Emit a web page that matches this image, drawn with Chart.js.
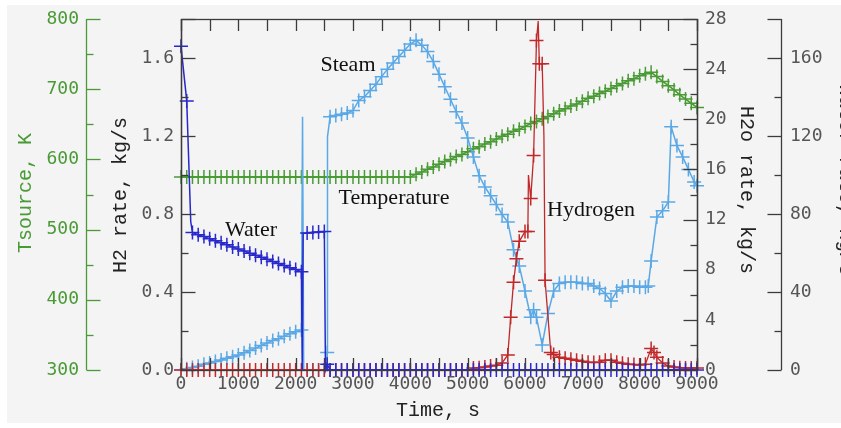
<!DOCTYPE html>
<html>
<head>
<meta charset="utf-8">
<script src="https://cdn.jsdelivr.net/npm/chart.js@4/dist/chart.umd.min.js"></script>
<style>
  html, body { margin: 0; padding: 0; background: #fff; }
  canvas { display: block; }
</style>
</head>
<body>
<canvas id="simChart" width="841" height="428"></canvas>
<script>
// tick labels
const timeTicks = [0, 1000, 2000, 3000, 4000, 5000, 6000, 7000, 8000, 9000];
const h2Ticks = [0.0, 0.4, 0.8, 1.2, 1.6];
const tsourceTicks = [300, 400, 500, 600, 700, 800];
const h2oTicks = [0, 4, 8, 12, 16, 20, 24, 28];
const waterTicks = [0, 40, 80, 120, 160];

// Temperature (Tsource, K)
const tempT = [0, 100, 200, 300, 400, 500, 600, 700, 800, 900, 1000, 1100, 1200, 1300, 1400, 1500, 1600, 1700, 1800, 1900,
  2000, 2100, 2200, 2300, 2400, 2500, 2600, 2700, 2800, 2900, 3000, 3100, 3200, 3300, 3400, 3500, 3600, 3700, 3800, 3900,
  4000, 4100, 4200, 4300, 4400, 4500, 4600, 4700, 4800, 4900, 5000, 5100, 5200, 5300, 5400, 5500, 5600, 5700, 5800, 5900,
  6000, 6100, 6200, 6300, 6400, 6500, 6600, 6700, 6800, 6900, 7000, 7100, 7200, 7300, 7400, 7500, 7600, 7700, 7800, 7900,
  8000, 8100, 8200, 8300, 8400, 8500, 8600, 8700, 8800, 8900, 9000];
const tempK = [575, 575, 575, 575, 575, 575, 575, 575, 575, 575, 575, 575, 575, 575, 575, 575, 575, 575, 575, 575,
  575, 575, 575, 575, 575, 575, 575, 575, 575, 575, 575, 575, 575, 575, 575, 575, 575, 575, 575, 575,
  575, 579, 582, 586, 589, 593, 597, 600, 604, 607, 611, 615, 618, 622, 625, 629, 633, 636, 640, 643,
  647, 651, 654, 658, 661, 665, 669, 672, 676, 679, 683, 687, 690, 694, 697, 701, 705, 708, 712, 715,
  719, 722, 724, 718, 711, 705, 699, 692, 686, 680, 674];

// Steam (H2o rate, kg/s)
const steamT = [0, 100, 200, 300, 400, 500, 600, 700, 800, 900, 1000, 1100, 1200, 1300, 1400, 1500, 1600, 1700, 1800, 1900,
  2000, 2100, 2120, 2140, 2200, 2300, 2400, 2500, 2540, 2550, 2555, 2600, 2700, 2800, 2900, 3000, 3100, 3200, 3300, 3400,
  3500, 3600, 3700, 3800, 3900, 4000, 4100, 4200, 4300, 4400, 4500, 4600, 4700, 4800, 4900, 5000, 5100, 5200, 5300, 5400,
  5500, 5600, 5700, 5800, 5900, 6000, 6100, 6150, 6200, 6300, 6400, 6500, 6600, 6700, 6800, 6900, 7000, 7100, 7200, 7300,
  7400, 7500, 7600, 7700, 7800, 7900, 8000, 8100, 8150, 8200, 8300, 8400, 8500, 8550, 8650, 8750, 8850, 8950, 9000];
const steamV = [0, 0.1, 0.2, 0.3, 0.45, 0.56, 0.68, 0.8, 0.93, 1.06, 1.2, 1.38, 1.55, 1.75, 1.95, 2.15, 2.35, 2.5, 2.7, 2.9,
  3.05, 3.2, 20.2, 0, 0, 0, 0, 0, 0, 1.4, 18.6, 20.2, 20.3, 20.4, 20.5, 20.7, 21.5, 21.8, 22.3, 22.8,
  23.4, 24.0, 24.5, 25.0, 25.5, 26.0, 26.3, 25.9, 25.4, 24.6, 23.6, 22.6, 21.6, 20.6, 19.7, 18.5, 17.0, 15.5, 14.6, 13.9,
  13.2, 12.4, 11.8, 9.6, 8.3, 6.3, 4.2, 4.8, 4.2, 2.0, 4.5, 6.3, 6.9, 7.0, 7.0, 7.0, 6.9, 6.9, 6.7, 6.5,
  6.1, 5.5, 6.3, 6.6, 6.7, 6.7, 6.6, 6.6, 6.7, 8.7, 12.2, 12.7, 13.4, 19.4, 17.9, 17.0, 16.0, 15.0, 14.7];

// Water (outer right axis)
const waterT = [0, 100, 170, 200, 300, 400, 500, 600, 700, 800, 900, 1000, 1100, 1200, 1300, 1400, 1500, 1600, 1700, 1800,
  1900, 2000, 2100, 2115, 2130, 2200, 2300, 2400, 2500, 2520, 2550, 2600, 2700, 2800, 2900, 3000, 3100, 3200, 3300, 3400,
  3500, 3600, 3700, 3800, 3900, 4000, 4100, 4200, 4300, 4400, 4500, 4600, 4700, 4800, 4900, 5000, 5100, 5200, 5300, 5400,
  5500, 5600, 5700, 5800, 5900, 6000, 6100, 6200, 6300, 6400, 6500, 6600, 6700, 6800, 6900, 7000, 7100, 7200, 7300, 7400,
  7500, 7600, 7700, 7800, 7900, 8000, 8100, 8200, 8300, 8400, 8500, 8600, 8700, 8800, 8900, 9000];
const waterV = [166, 138, 76, 70.5, 69.4, 68.4, 67.3, 66.3, 65.2, 64.2, 63.1, 62.0, 61.0, 59.9, 58.9, 57.8, 56.8, 55.7, 54.6, 53.6,
  52.5, 51.5, 50.4, 0, 70.0, 70.2, 70.5, 70.8, 71.0, 0, 3, 0, 0, 0, 0, 0, 0, 0, 0, 0,
  0, 0, 0, 0, 0, 0, 0, 0, 0, 0, 0, 0, 0, 0, 0, 0, 0, 0, 0, 0,
  0, 0, 0, 0, 0, 0, 0, 0, 0, 0, 0, 0, 0, 0, 0, 0, 0, 0, 0, 0,
  0, 0, 0, 0, 0, 0, 0, 0, 0, 0, 0, 0, 0, 0, 0, 0];

// Hydrogen (H2 rate, kg/s)
const hydT = [0, 100, 200, 300, 400, 500, 600, 700, 800, 900, 1000, 1100, 1200, 1300, 1400, 1500, 1600, 1700, 1800, 1900,
  2000, 2100, 2200, 2300, 2400, 2500, 2600, 2700, 2800, 2900, 3000, 3100, 3200, 3300, 3400, 3500, 3600, 3700, 3800, 3900,
  4000, 4100, 4200, 4300, 4400, 4500, 4600, 4700, 4800, 4900, 5000, 5100, 5200, 5300, 5400, 5500, 5600, 5700, 5750, 5800,
  5850, 5900, 6000, 6050, 6060, 6100, 6150, 6200, 6230, 6250, 6300, 6330, 6350, 6450, 6500, 6600, 6700, 6800, 6900, 7000,
  7100, 7200, 7300, 7400, 7500, 7600, 7700, 7800, 7900, 8000, 8100, 8200, 8250, 8300, 8400, 8500, 8600, 8700, 8800, 8900, 9000];
const hydV = [0, 0, 0, 0, 0, 0, 0, 0, 0, 0, 0, 0, 0, 0, 0, 0, 0, 0, 0, 0,
  0, 0, 0, 0, 0, 0, 0, 0, 0, 0, 0, 0, 0, 0, 0, 0, 0, 0, 0, 0,
  0, 0, 0, 0, 0, 0, 0, 0, 0, 0, 0, 0.01, 0.012, 0.015, 0.02, 0.025, 0.036, 0.077, 0.27, 0.45,
  0.57, 0.66, 0.71, 0.71, 1.0, 0.88, 1.1, 1.69, 1.79, 1.57, 1.57, 1.2, 0.46, 0.09, 0.08, 0.065, 0.06, 0.055, 0.05, 0.045,
  0.04, 0.038, 0.04, 0.05, 0.05, 0.04, 0.035, 0.03, 0.028, 0.026, 0.03, 0.11, 0.09, 0.065, 0.036, 0.02, 0.015, 0.012, 0.01, 0.01, 0.01];

const pts = (xs, ys) => xs.map((x, i) => ({ x: x, y: ys[i] }));
const markR = (ctx) => (ctx.raw && ctx.raw.x % 50 === 0) ? 7 : 0;

const GREEN = '#4a9a36';
const LBLUE = '#5aa8e6';
const DBLUE = '#2828cc';
const RED = '#c0282a';
const AXIS = '#3c3c3c';
const TICKTXT = '#555';

function series(label, data, color, axis, width) {
  return {
    label: label,
    data: data,
    yAxisID: axis,
    borderColor: color,
    backgroundColor: color,
    borderWidth: width,
    pointStyle: 'cross',
    pointRadius: markR,
    pointBorderWidth: 1.5,
    pointBorderColor: color,
    tension: 0,
    clip: false
  };
}

function drawYAxis(c, scale, x, dir, majors, fmt, labelX, align, color, txtColor) {
  c.strokeStyle = color;
  c.lineWidth = 1.3;
  c.beginPath();
  c.moveTo(x, scale.top);
  c.lineTo(x, scale.bottom);
  c.stroke();
  const step = majors[1] - majors[0];
  for (let v = scale.min; v <= scale.max + 1e-9; v += step / 2) {
    const y = Math.round(scale.getPixelForValue(v)) + 0.5;
    const k = (v - majors[0]) / step;
    const major = Math.abs(k - Math.round(k)) < 1e-6 || Math.abs(v - scale.max) < 1e-9;
    c.beginPath();
    c.moveTo(x, y);
    c.lineTo(x + dir * (major ? 14 : 7), y);
    c.stroke();
  }
  c.fillStyle = txtColor;
  c.font = '18px "DejaVu Sans Mono"';
  c.textAlign = align;
  c.textBaseline = 'middle';
  majors.forEach(v => c.fillText(fmt(v), labelX, scale.getPixelForValue(v)));
}

function rotText(c, text, x, y, rot, font, color) {
  c.save();
  c.translate(x, y);
  c.rotate(rot);
  c.font = font;
  c.fillStyle = color;
  c.textAlign = 'center';
  c.textBaseline = 'middle';
  c.fillText(text, 0, 0);
  c.restore();
}

const axesPlugin = {
  id: 'axesPlugin',
  beforeDraw(chart) {
    const c = chart.ctx;
    c.save();
    c.fillStyle = '#fff';
    c.fillRect(0, 0, chart.width, chart.height);
    c.fillStyle = '#f4f4f4';
    c.fillRect(7, 5, chart.width - 7, 418);
    c.restore();
  },
  afterDatasetsDraw(chart) {
    const c = chart.ctx;
    c.save();
    c.fillStyle = '#111';
    c.font = '22px "Liberation Serif"';
    c.textAlign = 'center';
    c.textBaseline = 'middle';
    c.fillText('Steam', 348, 65);
    c.fillText('Temperature', 394, 198);
    c.fillText('Water', 251, 230);
    c.fillText('Hydrogen', 591, 210);
    c.restore();
  },
  afterDraw(chart) {
    const c = chart.ctx;
    const a = chart.chartArea;
    const sx = chart.scales.x;
    c.save();
    c.strokeStyle = AXIS;
    c.lineWidth = 1.3;
    c.strokeRect(Math.round(a.left) + 0.5, Math.round(a.top) + 0.5, Math.round(a.right - a.left), Math.round(a.bottom - a.top));

    // time ticks top and bottom
    for (let t = 0; t <= 9000; t += 500) {
      const x = Math.round(sx.getPixelForValue(t)) + 0.5;
      c.beginPath();
      c.moveTo(x, a.bottom); c.lineTo(x, a.bottom - 12);
      c.moveTo(x, a.top); c.lineTo(x, a.top + 12);
      c.stroke();
    }
    c.fillStyle = TICKTXT;
    c.font = '18px "DejaVu Sans Mono"';
    c.textAlign = 'center';
    c.textBaseline = 'middle';
    timeTicks.forEach(t => c.fillText(String(t), sx.getPixelForValue(t), 384));

    drawYAxis(c, chart.scales.yH2, a.left + 0.5, 1, h2Ticks, v => v.toFixed(1), 174, 'right', AXIS, TICKTXT);
    drawYAxis(c, chart.scales.yT, 86.5, 1, tsourceTicks, v => String(v), 79, 'right', GREEN, GREEN);
    drawYAxis(c, chart.scales.yH2o, a.right + 0.5, -1, h2oTicks, v => String(v), 705, 'left', AXIS, TICKTXT);
    drawYAxis(c, chart.scales.yW, 781.5, -1, waterTicks, v => String(v), 790, 'left', AXIS, TICKTXT);

    const titleFont = '20px "Liberation Mono"';
    rotText(c, 'Time, s', 438, 411, 0, titleFont, '#222');
    rotText(c, 'Tsource, K', 26, 193, -Math.PI / 2, titleFont, GREEN);
    rotText(c, 'H2 rate, kg/s', 121, 195, -Math.PI / 2, titleFont, '#222');
    rotText(c, 'H2o rate, kg/s', 746, 190, Math.PI / 2, titleFont, '#222');
    rotText(c, 'Water rate, kg/s', 845, 180, Math.PI / 2, titleFont, '#222');
    c.restore();
  }
};

new Chart(document.getElementById('simChart'), {
  type: 'line',
  data: {
    datasets: [
      series('Water', pts(waterT, waterV), DBLUE, 'yW', 1.5),
      series('Hydrogen', pts(hydT, hydV), RED, 'yH2', 1.3),
      series('Steam', pts(steamT, steamV), LBLUE, 'yH2o', 1.5),
      series('Temperature', pts(tempT, tempK), GREEN, 'yT', 1.6)
    ]
  },
  options: {
    responsive: false,
    animation: false,
    events: [],
    layout: { autoPadding: false, padding: { left: 181, right: 144, top: 19, bottom: 58 } },
    plugins: { legend: { display: false }, tooltip: { enabled: false } },
    scales: {
      x: { type: 'linear', min: 0, max: 9000, display: false },
      yH2: { type: 'linear', min: 0, max: 1.8, display: false },
      yT: { type: 'linear', min: 300, max: 800, display: false },
      yH2o: { type: 'linear', min: 0, max: 28, display: false },
      yW: { type: 'linear', min: 0, max: 180, display: false }
    }
  },
  plugins: [axesPlugin]
});
</script>
</body>
</html>
